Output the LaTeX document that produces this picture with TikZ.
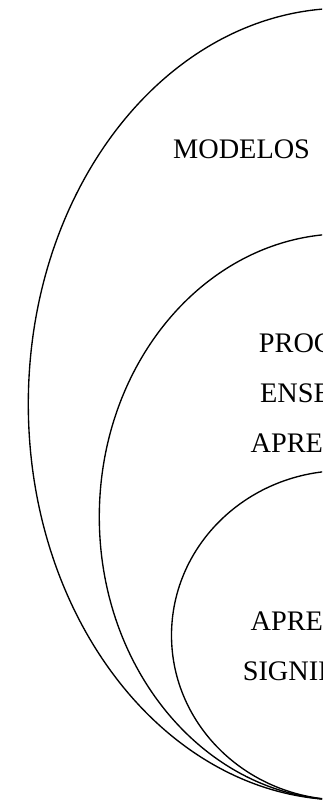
\documentclass[tikz,border=0pt]{standalone}
\usepackage{fontspec}
\setmainfont{Liberation Serif}
\begin{document}
\begin{tikzpicture}[x=1pt,y=1pt,
  ring/.style={draw=black,line width=1.35pt},
  label/.style={anchor=base,inner sep=0pt,font=\fontsize{28.3}{34}\selectfont}]
\useasboundingbox (0,0) rectangle (322,802);
\clip (0,0) rectangle (322,802);
% ellipses (y measured from top: ty = 802 - y)
\draw[ring] (344,{802-404.1}) ellipse [x radius=315.7, y radius=395.9];
\draw[ring] (344,{802-516.9}) ellipse [x radius=244.7, y radius=283.1];
\draw[ring] (344,{802-635.3}) ellipse [x radius=172.5, y radius=164.7];
% texts
\node[label,anchor=base west] (modelos) at (173,{802-159}) {MODELOS};
\node[label] (proc) at (345,{802-353}) {PROCESO DE};
\node[label] (ens) at (345,{802-403}) {ENSEÑANZA};
\node[label] (apr1) at (345,{802-453}) {APRENDIZAJE};
\node[label] (apr2) at (345,{802-631}) {APRENDIZAJE};
\node[label] (sig) at (345,{802-681}) {SIGNIFICATIVO};
\end{tikzpicture}
\end{document}
